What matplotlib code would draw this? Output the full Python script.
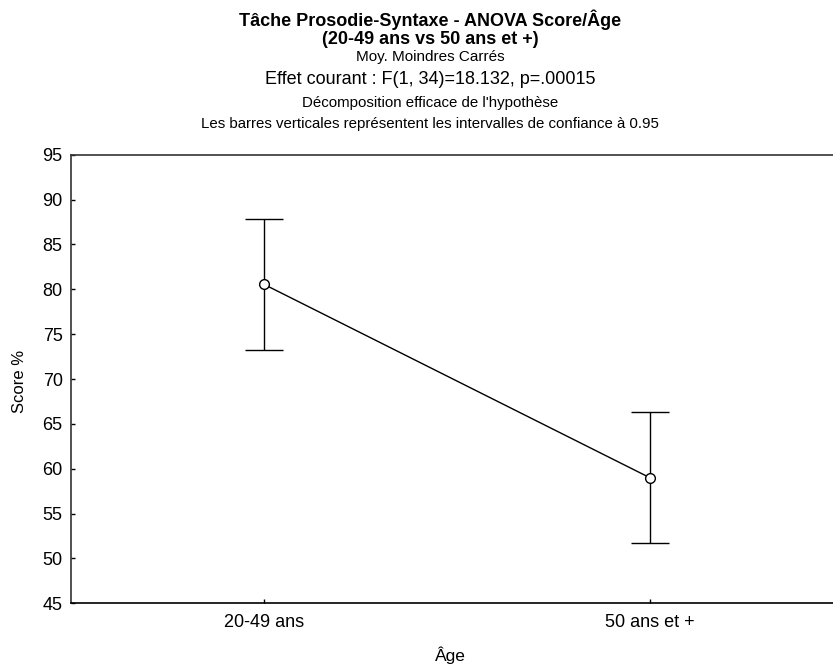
import matplotlib
matplotlib.use("Agg")
import matplotlib.pyplot as plt

plt.rcParams['font.family'] = ['Liberation Sans', 'DejaVu Sans']

# Data
groups = ['20-49 ans', '50 ans et +']
means = [80.55, 58.99]
ci_half = [7.27, 7.28]
y_ticks = [45, 50, 55, 60, 65, 70, 75, 80, 85, 90, 95]

W, H = 833, 665
fig = plt.figure(figsize=(W / 100, H / 100), dpi=100)
# axes extend a little past the right edge (clipped, as in the reference)
ax = fig.add_axes([71/W, 61.7/H, 772/W, 448.6/H])

x = list(range(len(groups)))
ax.errorbar(x, means, yerr=ci_half, color='black', linewidth=1.0,
            capsize=13.5, capthick=1.0, elinewidth=1.0,
            marker='o', markersize=7, markerfacecolor='white',
            markeredgecolor='black', markeredgewidth=1.0, zorder=3)

ax.set_xlim(-0.5, 1.5)
ax.set_ylim(45, 95)
ax.set_yticks(y_ticks)
ax.set_xticks(x)
ax.set_xticklabels(groups)
ax.tick_params(direction='in', length=3, width=1.0, labelsize=13)
ax.tick_params(axis='y', pad=6)
ax.tick_params(axis='x', pad=8)
for s in ax.spines.values():
    s.set_linewidth(1.2)
    s.set_color('#333333')
ax.spines['bottom'].set_color('black')

# axis titles
fig.text(19/W, 1 - 381/H, 'Score %', rotation=90, ha='center', va='center', fontsize=12)
fig.text(450/W, 1 - 655/H, 'Âge', ha='center', va='center', fontsize=12.5)

# Title block
cx = 430 / W
fig.text(cx, 1 - 20/H, 'Tâche Prosodie-Syntaxe - ANOVA Score/Âge',
         ha='center', va='center', fontsize=13, fontweight='bold')
fig.text(cx, 1 - 39/H, '(20-49 ans vs 50 ans et +)',
         ha='center', va='center', fontsize=13, fontweight='bold')
fig.text(cx, 1 - 57/H, 'Moy. Moindres Carrés',
         ha='center', va='center', fontsize=11)
fig.text(cx, 1 - 80/H, 'Effet courant : F(1, 34)=18.132, p=.00015',
         ha='center', va='center', fontsize=13)
fig.text(cx, 1 - 103/H, "Décomposition efficace de l'hypothèse",
         ha='center', va='center', fontsize=10.8)
fig.text(cx, 1 - 124/H, 'Les barres verticales représentent les intervalles de confiance à 0.95',
         ha='center', va='center', fontsize=10.8)

fig.savefig('out.png', dpi=100)
